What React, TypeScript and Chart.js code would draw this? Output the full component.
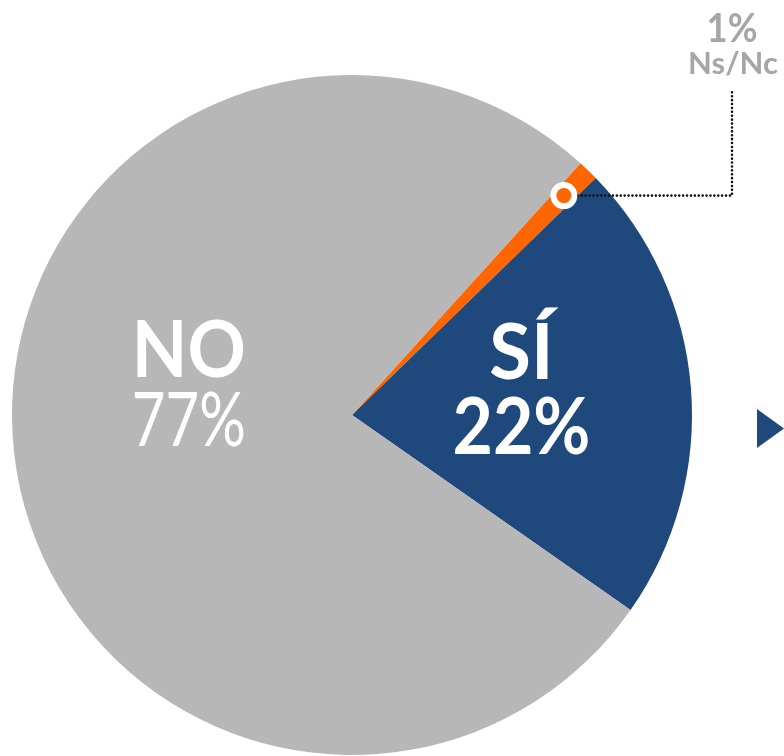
import React, { useEffect, useRef } from "react";
import { Chart, registerables } from "chart.js";

Chart.register(...registerables);

const categories = ["Ns/Nc", "SÍ", "NO"];
const values = [1, 22, 77];
const colors = ["#FF6600", "#1F497D", "#B7B7B7"];
const labelTexts = ["1%", "22%", "77%"];

const FONT = "Lato, 'Open Sans', sans-serif";

function fitText(ctx: CanvasRenderingContext2D, text: string, x: number, y: number, width: number) {
  const w = ctx.measureText(text).width;
  const sx = Math.min(1, width / w);
  ctx.save();
  ctx.translate(x, y);
  ctx.scale(sx, 1);
  ctx.fillText(text, 0, 0);
  ctx.restore();
}

const overlayPlugin = {
  id: "overlay",
  afterDatasetsDraw(chart: any) {
    const ctx = chart.ctx as CanvasRenderingContext2D;
    const meta = chart.getDatasetMeta(0);
    const arcs = meta.data as any[];

    ctx.save();
    ctx.fillStyle = "#FFFFFF";
    ctx.textAlign = "center";
    ctx.textBaseline = "middle";
    // SÍ
    {
      const a = arcs[1];
      const mid = (a.startAngle + a.endAngle) / 2;
      const r = a.outerRadius * 0.5;
      const x = a.x + Math.cos(mid) * r;
      const y = a.y + Math.sin(mid) * r;
      ctx.font = `bold 76px ${FONT}`;
      fitText(ctx, categories[1], x, y - 47, 70);
      ctx.font = `bold 78px ${FONT}`;
      fitText(ctx, labelTexts[1], x, y + 27, 138);
    }
    // NO
    {
      const a = arcs[2];
      const x = a.x - a.outerRadius * 0.48;
      const y = a.y - 30;
      ctx.font = `bold 78px ${FONT}`;
      fitText(ctx, categories[2], x, y - 33, 114);
      ctx.font = `normal 76px ${FONT}`;
      fitText(ctx, labelTexts[2], x, y + 36, 114);
    }
    ctx.restore();

    // callout for Ns/Nc
    const s = arcs[0];
    const mid = (s.startAngle + s.endAngle) / 2;
    const rr = s.outerRadius * 0.897;
    const cx = s.x + Math.cos(mid) * rr;
    const cy = s.y + Math.sin(mid) * rr;
    const lineX = 732;
    const topY = 90;

    ctx.save();
    ctx.strokeStyle = "#111111";
    ctx.lineWidth = 2.6;
    ctx.lineCap = "round";
    ctx.setLineDash([0, 3.9]);
    ctx.beginPath();
    ctx.moveTo(cx + 14, cy);
    ctx.lineTo(lineX, cy);
    ctx.lineTo(lineX, topY);
    ctx.stroke();
    ctx.restore();

    ctx.save();
    ctx.beginPath();
    ctx.arc(cx, cy, 13.5, 0, Math.PI * 2);
    ctx.fillStyle = "#FFFFFF";
    ctx.fill();
    ctx.beginPath();
    ctx.arc(cx, cy, 7.5, 0, Math.PI * 2);
    ctx.fillStyle = colors[0];
    ctx.fill();
    ctx.restore();

    ctx.save();
    ctx.fillStyle = "#A6A6A6";
    ctx.textAlign = "center";
    ctx.textBaseline = "middle";
    ctx.font = `bold 41px ${FONT}`;
    fitText(ctx, labelTexts[0], 732, 29, 51);
    ctx.font = `bold 31px ${FONT}`;
    fitText(ctx, categories[0], 733, 64, 91);
    ctx.restore();

    // navy arrow marker at the right edge
    ctx.save();
    ctx.fillStyle = colors[1];
    ctx.beginPath();
    ctx.moveTo(757, 409);
    ctx.lineTo(784, 428.5);
    ctx.lineTo(757, 448);
    ctx.closePath();
    ctx.fill();
    ctx.restore();
  },
};

export default function App() {
  const ref = useRef<HTMLCanvasElement | null>(null);
  useEffect(() => {
    if (!ref.current) return;
    const chart = new Chart(ref.current, {
      type: "pie",
      data: {
        labels: categories,
        datasets: [
          {
            data: values,
            backgroundColor: colors,
            borderWidth: 0,
          },
        ],
      },
      options: {
        responsive: false,
        animation: false,
        rotation: 42.2,
        layout: { padding: { left: 12, right: 92, top: 75, bottom: 1 } },
        plugins: {
          legend: { display: false },
          tooltip: { enabled: false },
          title: { display: false },
        },
      },
      plugins: [overlayPlugin],
    });
    return () => chart.destroy();
  }, []);
  return (
    <div style={{ position: "fixed", left: 0, top: 0, width: 784, height: 756, background: "#fff" }}>
      <canvas ref={ref} width={784} height={756} style={{ width: 784, height: 756, display: "block" }} />
    </div>
  );
}
